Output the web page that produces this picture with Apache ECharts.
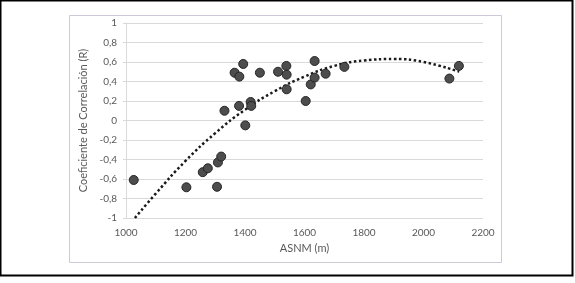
<!DOCTYPE html>
<html>
<head>
<meta charset="utf-8">
<style>
  html, body { margin: 0; padding: 0; background: #fff; }
  #chart { width: 575px; height: 283px; }
</style>
<script src="https://cdn.jsdelivr.net/npm/echarts@6/dist/echarts.min.js"></script>
</head>
<body>
<div id="chart"></div>
<script>
// altitud (m) vs coeficiente de correlacion
const altitudes = [1026, 1203, 1258, 1275, 1306, 1309, 1320, 1331, 1365, 1380,
  1381, 1394, 1401, 1419, 1421, 1450, 1511, 1539, 1540, 1540,
  1604, 1621, 1634, 1634, 1671, 1734, 2087, 2119];
const correlations = [-0.61, -0.685, -0.53, -0.49, -0.68, -0.43, -0.37, 0.10, 0.49, 0.15,
  0.45, 0.58, -0.05, 0.19, 0.15, 0.49, 0.50, 0.56, 0.47, 0.32,
  0.20, 0.37, 0.61, 0.44, 0.48, 0.55, 0.43, 0.56];

// dotted trend line
const trendX = [1030, 1100, 1200, 1300, 1400, 1500, 1600, 1700, 1800, 1900, 2000, 2120];
const trendY = [-1.0, -0.75, -0.415, -0.13, 0.11, 0.30, 0.45, 0.56, 0.615, 0.63, 0.60, 0.50];

const xTicks = {min: 1000, max: 2200, step: 200};
const yTicks = {min: -1, max: 1, step: 0.2};

const chart = echarts.init(document.getElementById('chart'));
const labelColor = '#595959';
const font = 'Lato, "Open Sans", sans-serif';

chart.setOption({
  animation: false,
  textStyle: {fontFamily: font},
  grid: {left: 126, right: 92, top: 23, bottom: 65},
  graphic: [
    {type: 'rect', shape: {x: 0.5, y: 0.5, width: 572, height: 275},
      style: {fill: 'none', stroke: '#000', lineWidth: 2}, silent: true},
    {type: 'rect', shape: {x: 69.5, y: 15.5, width: 432, height: 247},
      style: {fill: 'none', stroke: '#cfc8d6', lineWidth: 1}, silent: true}
  ],
  xAxis: {
    type: 'value',
    min: xTicks.min, max: xTicks.max, interval: xTicks.step,
    name: 'ASNM (m)', nameLocation: 'middle', nameGap: 25,
    nameTextStyle: {color: labelColor, fontSize: 11, fontFamily: font},
    axisLine: {show: true, lineStyle: {color: '#d9d9d9'}},
    axisTick: {show: false},
    splitLine: {show: false},
    axisLabel: {color: labelColor, fontSize: 10, margin: 10, fontFamily: font,
      formatter: v => String(v)}
  },
  yAxis: {
    type: 'value',
    min: yTicks.min, max: yTicks.max, interval: yTicks.step,
    name: 'Coeficiente de Correlación (R)', nameLocation: 'middle', nameGap: 33,
    nameTextStyle: {color: labelColor, fontSize: 11, fontFamily: font},
    axisLine: {show: true, lineStyle: {color: '#d9d9d9'}},
    axisTick: {show: true, length: 3, inside: false, lineStyle: {color: '#d9d9d9'}},
    splitLine: {show: true, lineStyle: {color: '#d9d9d9'}},
    axisLabel: {
      color: labelColor, fontSize: 10, margin: 9, fontFamily: font,
      formatter: v => String(Math.round(v * 10) / 10).replace('.', ',')
    }
  },
  series: [
    {
      type: 'line',
      data: trendX.map((x, i) => [x, trendY[i]]),
      smooth: true,
      showSymbol: false,
      lineStyle: {color: '#1a1a1a', width: 2.5, type: [2.5, 2.5]},
      z: 3
    },
    {
      type: 'scatter',
      data: altitudes.map((x, i) => [x, correlations[i]]),
      symbolSize: 9,
      itemStyle: {color: '#4d4d4d', borderColor: '#262626', borderWidth: 1, opacity: 1},
      z: 4
    }
  ]
});
</script>
</body>
</html>
